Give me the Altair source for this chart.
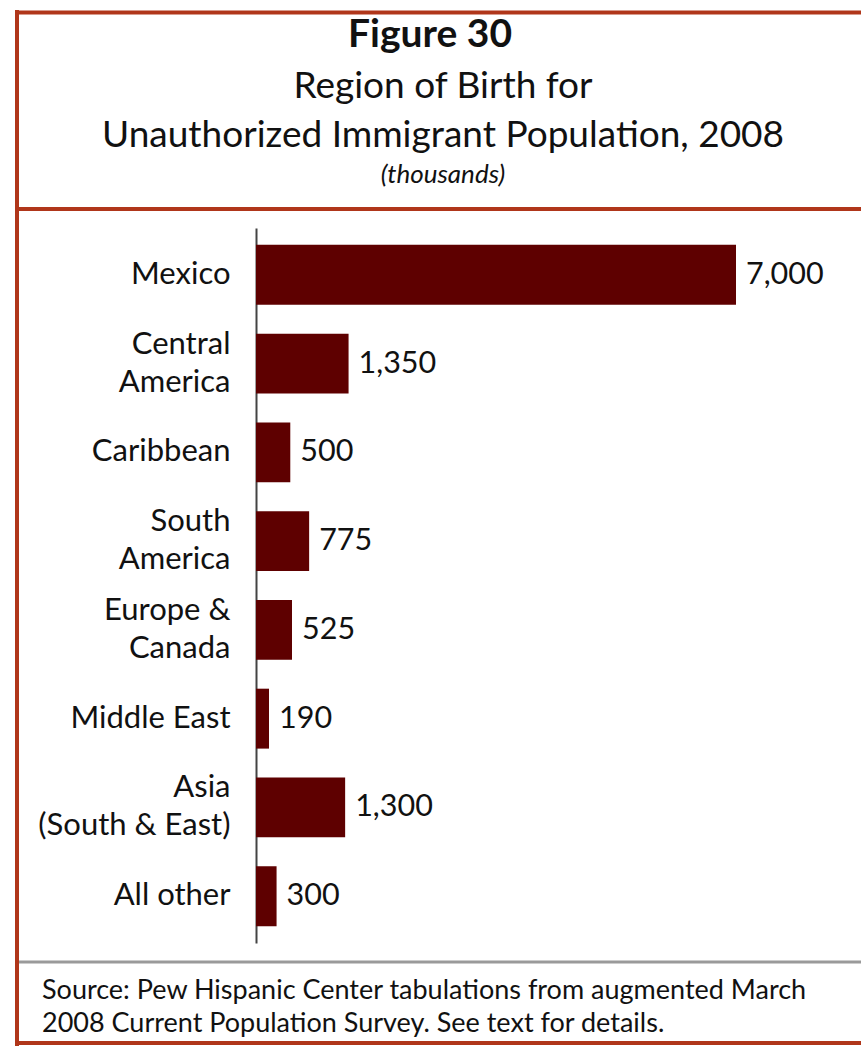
import altair as alt
import pandas as pd

categories = ["Mexico", "Central\nAmerica", "Caribbean", "South\nAmerica",
              "Europe &\nCanada", "Middle East", "Asia\n(South & East)", "All other"]
values = [7000, 1350, 500, 775, 525, 190, 1300, 300]
labels = ["7,000", "1,350", "500", "775", "525", "190", "1,300", "300"]

title_lines = ["Figure 30", "Region of Birth for",
               "Unauthorized Immigrant Population, 2008", "(thousands)"]
source_lines = ["Source: Pew Hispanic Center tabulations from augmented March",
                "2008 Current Population Survey. See text for details."]

df = pd.DataFrame({"cat": categories, "val": values, "lab": labels})

FONT = "Lato"
BAR = "#5e0000"
FRAME = "#b0361a"

y_enc = alt.Y("cat:N", sort=categories, title=None,
              scale=alt.Scale(paddingInner=0.325, paddingOuter=0.19),
              axis=alt.Axis(labelExpr="split(datum.value, '\\n')",
                            labelFont=FONT, labelFontSize=31, labelColor="#111",
                            labelLineHeight=38,
                            labelOffset=alt.expr("indexof(datum.value, '\\n') >= 0 ? -19 : 0"),
                            labelPadding=26, ticks=False,
                            domainColor="#444", domainWidth=2, labelLimit=400))
x_enc = alt.X("val:Q", title=None, axis=None, scale=alt.Scale(domain=[0, 7000]))

bars = alt.Chart(df).mark_bar(color=BAR).encode(x=x_enc, y=y_enc)
vals = alt.Chart(df).mark_text(align="left", baseline="middle", dx=10, font=FONT,
                               fontSize=30.5, color="#111").encode(
    x=x_enc, y=alt.Y("cat:N", sort=categories), text="lab:N")

one = alt.Data(values=[{"a": 1}])

def txt(s, x, y, size, weight="normal", style="normal", align="center"):
    return alt.Chart(one).mark_text(text=s, font=FONT, fontSize=size, fontWeight=weight,
                                    fontStyle=style, align=align, baseline="alphabetic",
                                    color="#111").encode(x=alt.value(x), y=alt.value(y))

def rule(x1, x2, y1, y2, color, w):
    return alt.Chart(one).mark_rule(color=color, strokeWidth=w).encode(
        x=alt.value(x1), x2=alt.value(x2), y=alt.value(y1), y2=alt.value(y2))

header = [
    txt(title_lines[0], 174, -181, 39, weight="bold"),
    txt(title_lines[1], 187, -130, 37),
    txt(title_lines[2], 187, -81, 37),
    txt(title_lines[3], 187, -45, 26, style="italic"),
]
footer = [
    txt(source_lines[0], -214, 771, 27, align="left"),
    txt(source_lines[1], -214, 804, 27, align="left"),
]
frame = [
    rule(-241, 620, -215.5, -215.5, FRAME, 4),
    rule(-239, -239, -218, 818, FRAME, 4),
    rule(-241, 620, -19, -19, FRAME, 4),
    rule(-237, 620, 734, 734, "#9a9a9a", 3),
    rule(-241, 620, 815, 815, FRAME, 4),
]

chart = alt.layer(bars, vals, *header, *footer, *frame).properties(
    width=480, height=715,
    autosize=alt.AutoSizeParams(type="none"),
    padding={"left": 256, "top": 228, "right": 125, "bottom": 103},
    background="white",
).configure_view(stroke=None)

chart.save("out.html", embed_options={"renderer": "svg", "actions": False})
